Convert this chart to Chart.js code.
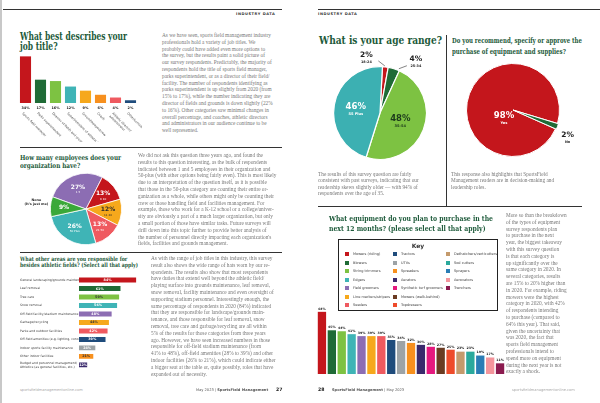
<!DOCTYPE html>
<html>
<head>
<meta charset="utf-8">
<script src="https://cdn.jsdelivr.net/npm/chart.js@4.4.0/dist/chart.umd.min.js"></script>
<style>
html, body { margin: 0; padding: 0; background: #fff; }
#page { position: relative; width: 600px; height: 403px; overflow: hidden; font-family: "Liberation Serif", serif; }
.box { position: absolute; }
.box canvas { display: block; }
.rule { position: absolute; height: 1px; background: #333; }
.vrule { position: absolute; width: 1px; background: #333; }
.title { position: absolute; font-family: "DejaVu Serif", serif; font-weight: bold; color: #1d5a3a; white-space: nowrap; transform-origin: 0 0; }
.txt { position: absolute; color: #787878; font-size: 5.3px; line-height: 6.8px; white-space: nowrap; }
.hdr { position: absolute; font-family: "DejaVu Sans", sans-serif; font-weight: bold; font-size: 3.6px; letter-spacing: 0.55px; color: #333; }
.foot { position: absolute; font-family: "DejaVu Sans", sans-serif; font-size: 3.6px; color: #555; white-space: nowrap; }
#key { position: absolute; left: 338px; top: 239px; width: 160px; height: 72px; border: 1px solid #222; box-sizing: border-box; }
#key .k { position: absolute; font-family: "DejaVu Sans", sans-serif; font-size: 3.5px; color: #444; white-space: nowrap; line-height: 4px; }
#key .k i { position: absolute; left: -8px; top: 0; width: 4px; height: 4px; }
</style>
</head>
<body>
<div id="page">
  <div class="box" style="left:0;top:0;width:2px;height:403px;background:#c8c8c8"></div>

  <!-- left page -->
  <div class="rule" style="left:3px;top:9px;width:279px"></div>
  <div class="hdr" style="left:236px;top:12px">INDUSTRY DATA</div>

  <div class="title" data-w="107" style="left:20px;top:32px;font-size:11px;line-height:10px">What best describes your<br>job title?</div>
  <div class="box" style="left:16px;top:50px"><canvas id="jobChart" width="126" height="92"></canvas></div>
  <div class="txt" style="left:162px;top:32px">As we have seen, sports field management industry<br>professionals hold a variety of job titles. We<br>probably could have added even more options to<br>the survey, but the results paint a solid picture of<br>our survey respondents. Predictably, the majority of<br>respondents hold the title of sports field manager,<br>parks superintendent, or as a director of their field/<br>facility. The number of respondents identifying as<br>parks superintendent is up slightly from 2020 (from<br>15% to 17%), while the number indicating they are<br>director of fields and grounds is down slightly (22%<br>to 16%). Other categories saw minimal changes in<br>overall percentage, and coaches, athletic directors<br>and administrators in our audience continue to be<br>well represented.</div>

  <div class="rule" style="left:20px;top:147px;width:262px"></div>
  <div class="title" data-w="101" style="left:20px;top:154px;font-size:7px;line-height:8px">How many employees does your<br>organization have?</div>
  <div class="box" style="left:18px;top:168px"><canvas id="staffChart" width="136" height="82"></canvas></div>
  <div class="txt" style="left:138px;top:152px">We did not ask this question three years ago, and found the<br>results to this question interesting, as the bulk of respondents<br>indicated between 1 and 5 employees in their organization and<br>50-plus (with other options being fairly even). This is most likely<br>due to an interpretation of the question itself, as it is possible<br>that those in the 50-plus category are counting their entire or-<br>ganization as a whole, while others might only be counting their<br>crew or those handling field and facilities management. For<br>example, those who work for a K-12 school or a college/univer-<br>sity are obviously a part of a much larger organization, but only<br>a small portion of those have similar tasks. Future surveys will<br>drill down into this topic further to provide better analysis of<br>the number of personnel directly impacting each organization's<br>fields, facilities and grounds management.</div>

  <div class="rule" style="left:20px;top:252px;width:262px"></div>
  <div class="title" data-w="118" style="left:20px;top:256px;font-size:6px;line-height:6px">What other areas are you responsible for<br>besides athletic fields? (Select all that apply)</div>
  <div class="box" style="left:18px;top:270px"><canvas id="areaChart" width="131" height="103"></canvas></div>
  <div class="txt" style="left:151px;top:255px">As with the range of job titles in this industry, this survey<br>result also shows the wide range of hats worn by our re-<br>spondents. The results also show that most respondents<br>have duties that extend well beyond the athletic field/<br>playing surface into grounds maintenance, leaf removal,<br>snow removal, facility maintenance and even oversight of<br>supporting stadium personnel. Interestingly enough, the<br>same percentage of respondents in 2020 (84%) indicated<br>that they are responsible for landscape/grounds main-<br>tenance, and those responsible for leaf removal, snow<br>removal, tree care and garbage/recycling are all within<br>5% of the results for those categories from three years<br>ago. However, we have seen increased numbers in those<br>responsible for off-field stadium maintenance (from<br>41% to 48%), off-field amenities (28% to 39%) and other<br>indoor facilities (26% to 21%), which could indicate either<br>a bigger seat at the table or, quite possibly, roles that have<br>expanded out of necessity.</div>

  <div class="foot" style="left:20px;top:388px;color:#aaa">sportsfieldmanagementonline.com</div>
  <div class="foot" style="left:196px;top:388px">May 2023 | <b>SportsField Management</b></div>
  <div class="foot" style="left:276px;top:387px;font-size:4.6px;font-weight:bold;color:#222">27</div>

  <!-- right page -->
  <div class="rule" style="left:318px;top:9px;width:282px"></div>
  <div class="hdr" style="left:318px;top:12px">INDUSTRY DATA</div>

  <div class="title" data-w="123" style="left:319px;top:35px;font-size:11px;line-height:11px">What is your age range?</div>
  <div class="box" style="left:318px;top:30px"><canvas id="ageChart" width="124" height="166"></canvas></div>
  <div class="txt" style="left:318px;top:171px;line-height:6.3px">The results of this survey question are fairly<br>consistent with past surveys, indicating that our<br>readership skews slightly older — with 94% of<br>respondents over the age of 35.</div>

  <div class="vrule" style="left:446px;top:35px;height:172px"></div>
  <div class="title" data-w="130" style="left:452px;top:35px;font-size:8px;line-height:11px">Do you recommend, specify or approve the<br>purchase of equipment and supplies?</div>
  <div class="box" style="left:449px;top:56px"><canvas id="buyChart" width="128" height="108"></canvas></div>
  <div class="txt" style="left:451px;top:171px;line-height:6.3px">This response also highlights that SportsField<br>Management readers are in decision-making and<br>leadership roles.</div>

  <div class="rule" style="left:318px;top:206px;width:264px"></div>
  <div class="title" data-w="164" style="left:329px;top:213px;font-size:8px;line-height:10px">What equipment do you plan to purchase in the<br>next 12 months? (please select all that apply)</div>
  <div id="key"></div>
  <div class="box" style="left:316px;top:300px"><canvas id="equipChart" width="190" height="74"></canvas></div>
  <div class="txt" style="left:506px;top:212px">More so than the breakdown<br>of the types of equipment<br>survey respondents plan<br>to purchase in the next<br>year, the biggest takeaway<br>with this survey question<br>is that each category is<br>up significantly over the<br>same category in 2020. In<br>several categories, results<br>are 15% to 20% higher than<br>in 2020. For example, riding<br>mowers were the highest<br>category in 2020, with 42%<br>of respondents intending<br>to purchase (compared to<br>64% this year). That said,<br>given the uncertainty that<br>was 2020, the fact that<br>sports field management<br>professionals intend to<br>spend more on equipment<br>during the next year is not<br>exactly a shock.</div>

  <div class="foot" style="left:318px;top:387px;font-size:4.6px;font-weight:bold;color:#222">28</div>
  <div class="foot" style="left:332px;top:388px"><b>SportsField Management</b> | May 2023</div>
  <div class="foot" style="left:512px;top:388px;color:#aaa">sportsfieldmanagementonline.com</div>
</div>

<script>
// job titles
const jobTitles = ['Sports field manager', 'Parks superintendent', 'Director of fields and grounds/facilities',
  'Superintendent of athletic fields/grounds', 'Groundskeeper/crew', 'Coach',
  ['Athletic director/', 'administrator'], 'Other/consultant'];
const jobValues = [34, 17, 16, 12, 9, 6, 4, 2];

// employees
const staffGroups = ['1-5', '6-10', '11-20', '21-50', '50 Plus', 'None'];
const staffValues = [27, 13, 12, 13, 26, 9];

// other areas
const areaLabels = ['General landscaping/grounds maintenance', 'Leaf removal', 'Tree care', 'Snow removal',
  'Off-field facility/stadium maintenance', 'Garbage/recycling', 'Parks and outdoor facilities',
  'Off-field amenities (e.g. lighting, concessions)', 'Indoor sports facility maintenance',
  'Other indoor facilities', ['Budget and personnel management/', 'Athletics (as general facilities, etc.)']];
const areaValues = [84, 61, 59, 56, 48, 44, 42, 39, 24, 21, 12];

// age
const ageRanges = ['18-24', '25-34', '35-54', '55 Plus'];
const ageValues = [2, 4, 48, 46];

// recommend / approve
const answers = ['Yes', 'No'];
const answerValues = [98, 2];

// equipment
const equipment = ['Mowers (riding)', 'Blowers', 'String trimmers', 'Edgers', 'Field groomers',
  'Line markers/stripers', 'Seeders', 'Tractors', 'UTVs', 'Spreaders', 'Aerators',
  'Synthetic turf groomers', 'Mowers (walk-behind)', 'Topdressers', 'Dethatchers/verticutters',
  'Sod cutters', 'Sprayers', 'Aerovators', 'Trenchers'];
const equipmentValues = [64, 45, 44, 41, 39, 39, 39, 35, 34, 32, 30, 28, 27, 25, 23, 23, 19, 17, 11];

const C = {
  red: '#c4161c', dgreen: '#1f6b36', lime: '#7dc242', teal: '#3fb4b6', purple: '#8c6db3',
  yellow: '#f6a81c', pink: '#ef5a60', navy: '#1f4c7c', gray: '#9da3a6', orange: '#f7901e',
  indigo: '#3a2a6c', magenta: '#e5197e', brown: '#6b3b22', redorange: '#ee4b2b', tan: '#c49a6c',
  teal2: '#2aa99c', blue: '#2a7db5', rose: '#f4959c', maroon: '#8b1b4f', green: '#3aa839'
};
const jobColors = [C.red, C.dgreen, C.lime, C.teal, C.yellow, C.orange, C.pink, C.navy];
const staffColors = [C.purple, C.red, C.yellow, C.pink, C.teal, C.green];
const areaColors = [C.red, C.dgreen, C.lime, C.teal, C.purple, C.yellow, C.pink, C.navy, C.gray, C.orange, C.indigo];
const ageColors = [C.red, C.dgreen, C.lime, '#3cb0b2'];
const equipColors = [C.red, C.dgreen, C.lime, C.teal, C.purple, C.yellow, C.pink, C.navy, C.gray, C.orange,
  C.indigo, C.magenta, C.brown, C.redorange, C.tan, C.teal2, C.blue, C.rose, C.maroon];

Chart.defaults.font.family = '"DejaVu Sans", sans-serif';
Chart.defaults.animation = false;
Chart.defaults.responsive = false;
Chart.defaults.plugins.legend.display = false;
Chart.defaults.plugins.tooltip.enabled = false;

const SANS = '"DejaVu Sans", sans-serif';

function txt(ctx, s, x, y, size, color, bold, align) {
  ctx.font = (bold ? 'bold ' : '') + size + 'px ' + SANS;
  ctx.fillStyle = color;
  ctx.textAlign = align || 'center';
  ctx.textBaseline = 'middle';
  ctx.fillText(s, x, y);
}

// point inside a slice
function slicePoint(arc, f) {
  const p = arc.getProps(['x', 'y', 'startAngle', 'endAngle', 'outerRadius'], true);
  const a = (p.startAngle + p.endAngle) / 2;
  return {x: p.x + Math.cos(a) * p.outerRadius * f, y: p.y + Math.sin(a) * p.outerRadius * f};
}

// job title bars
new Chart(document.getElementById('jobChart'), {
  type: 'bar',
  data: {labels: jobTitles, datasets: [{data: jobValues, backgroundColor: jobColors,
    categoryPercentage: 1, barPercentage: 0.74}]},
  options: {
    layout: {padding: {top: 5, bottom: 39, left: 2, right: 4}},
    scales: {
      x: {display: false},
      y: {display: false, min: 0, max: 35}
    }
  },
  plugins: [{
    id: 'jobText',
    afterDatasetsDraw(chart) {
      const ctx = chart.ctx, y0 = chart.chartArea.bottom;
      ctx.save();
      chart.getDatasetMeta(0).data.forEach((bar, i) => {
        txt(ctx, jobValues[i] + '%', bar.x, y0 + 5, 3.4, '#222', true);
        ctx.save();
        ctx.translate(bar.x - 3, y0 + 10);
        ctx.rotate(Math.PI / 4);
        [].concat(jobTitles[i]).forEach((l, j) => txt(ctx, l, 0, j * 4, 3.1, '#444', false, 'left'));
        ctx.restore();
      });
      ctx.restore();
    }
  }]
});

// employees pie
new Chart(document.getElementById('staffChart'), {
  type: 'pie',
  data: {labels: staffGroups, datasets: [{data: staffValues, backgroundColor: staffColors,
    borderColor: '#fff', borderWidth: 0.8}]},
  options: {
    rotation: -70,
    layout: {padding: {top: 5, bottom: 5, left: 32, right: 32}}
  },
  plugins: [{
    id: 'staffText',
    afterDatasetsDraw(chart) {
      const ctx = chart.ctx, arcs = chart.getDatasetMeta(0).data;
      ctx.save();
      arcs.forEach((arc, i) => {
        const p = slicePoint(arc, 0.62);
        const col = i === 2 ? '#2a2a2a' : '#fff';
        txt(ctx, staffValues[i] + '%', p.x, p.y - (i === 5 ? 0 : 1.5), 6, col, true);
        if (i < 5) txt(ctx, staffGroups[i], p.x, p.y + 3.8, 2.8, col, false);
      });
      const c = arcs[0];
      txt(ctx, 'None', c.x - c.outerRadius - 14, c.y - 9, 3.3, '#222', true);
      txt(ctx, "(It's just me)", c.x - c.outerRadius - 14, c.y - 5, 3.3, '#222', true);
      ctx.restore();
    }
  }]
});

// other areas horizontal bars
new Chart(document.getElementById('areaChart'), {
  type: 'bar',
  data: {labels: areaLabels, datasets: [{data: areaValues, backgroundColor: areaColors,
    categoryPercentage: 1, barPercentage: 0.58}]},
  options: {
    indexAxis: 'y',
    layout: {padding: {top: 1, bottom: 1, left: 2, right: 2}},
    scales: {
      x: {display: false, min: 0, max: 100},
      y: {
        grid: {display: false}, border: {display: false},
        ticks: {autoSkip: false, crossAlign: 'far', padding: 2, color: '#444', font: {size: 3.1}},
        afterFit(scale) { scale.width = 59; }
      }
    }
  },
  plugins: [{
    id: 'areaText',
    afterDatasetsDraw(chart) {
      const ctx = chart.ctx;
      ctx.save();
      chart.getDatasetMeta(0).data.forEach((bar, i) => {
        const dark = [2, 5, 9].includes(i);
        txt(ctx, areaValues[i] + '%', (bar.x + bar.base) / 2, bar.y + 0.2, 3.3, dark ? '#333' : '#fff', true);
      });
      ctx.restore();
    }
  }]
});

// age pie
new Chart(document.getElementById('ageChart'), {
  type: 'pie',
  data: {labels: ageRanges, datasets: [{data: ageValues, backgroundColor: ageColors,
    borderColor: '#fff', borderWidth: 1.2}]},
  options: {
    rotation: 3,
    layout: {padding: {top: 36, bottom: 36, left: 15, right: 15}}
  },
  plugins: [{
    id: 'ageText',
    afterDatasetsDraw(chart) {
      const ctx = chart.ctx, arcs = chart.getDatasetMeta(0).data;
      ctx.save();
      let p = slicePoint(arcs[3], 0.53);
      txt(ctx, ageValues[3] + '%', p.x, p.y - 2, 8.5, '#fff', true);
      txt(ctx, ageRanges[3], p.x, p.y + 5, 3.6, '#fff', true);
      p = slicePoint(arcs[2], 0.47);
      txt(ctx, ageValues[2] + '%', p.x, p.y - 2, 8.5, '#1c3a1c', true);
      txt(ctx, ageRanges[2], p.x, p.y + 5, 3.6, '#1c3a1c', true);
      ctx.strokeStyle = '#333';
      ctx.lineWidth = 0.6;
      p = slicePoint(arcs[0], 1.0);
      ctx.beginPath(); ctx.moveTo(p.x - 0.5, p.y - 1); ctx.lineTo(p.x - 7, p.y - 6); ctx.stroke();
      txt(ctx, ageValues[0] + '%', p.x - 19, p.y - 12, 7.5, '#222', true);
      txt(ctx, ageRanges[0], p.x - 19, p.y - 5, 3.4, '#222', true);
      p = slicePoint(arcs[1], 1.0);
      ctx.beginPath(); ctx.moveTo(p.x + 5, p.y); ctx.lineTo(p.x + 13, p.y - 3); ctx.stroke();
      txt(ctx, ageValues[1] + '%', p.x + 22, p.y - 10, 7.5, '#222', true);
      txt(ctx, ageRanges[1], p.x + 22, p.y - 3, 3.4, '#222', true);
      ctx.restore();
    }
  }]
});

// yes / no pie
new Chart(document.getElementById('buyChart'), {
  type: 'pie',
  data: {labels: answers, datasets: [{data: answerValues, backgroundColor: [C.red, C.dgreen],
    borderColor: '#fff', borderWidth: 1, offset: [0, 2]}]},
  options: {
    rotation: 114,
    layout: {padding: {top: 6, bottom: 6, left: 16, right: 16}}
  },
  plugins: [{
    id: 'buyText',
    afterDatasetsDraw(chart) {
      const ctx = chart.ctx, arcs = chart.getDatasetMeta(0).data;
      const c = arcs[0];
      ctx.save();
      txt(ctx, answerValues[0] + '%', c.x - 9, c.y + 6, 8.5, '#fff', true);
      txt(ctx, answers[0], c.x - 9, c.y + 13, 3.6, '#fff', true);
      const p = slicePoint(arcs[1], 1.0);
      txt(ctx, answerValues[1] + '%', p.x + 11, p.y + 9, 7.5, '#222', true);
      txt(ctx, answers[1], p.x + 11, p.y + 16, 3.4, '#222', true);
      ctx.restore();
    }
  }]
});

// equipment bars
new Chart(document.getElementById('equipChart'), {
  type: 'bar',
  data: {labels: equipment, datasets: [{data: equipmentValues, backgroundColor: equipColors,
    categoryPercentage: 1, barPercentage: 0.84}]},
  options: {
    layout: {padding: {top: 6, bottom: 0, left: 1, right: 1}},
    scales: {
      x: {display: false},
      y: {display: false, min: 0, max: 70}
    }
  },
  plugins: [{
    id: 'equipText',
    afterDatasetsDraw(chart) {
      const ctx = chart.ctx;
      ctx.save();
      chart.getDatasetMeta(0).data.forEach((bar, i) => {
        txt(ctx, equipmentValues[i] + '%', bar.x, bar.y - 3, 3.2, '#222', true);
      });
      ctx.restore();
    }
  }]
});

// key box built from the equipment list
const key = document.getElementById('key');
key.innerHTML = '<div style="position:absolute;left:0;right:0;top:2px;text-align:center;font:bold 6px \'DejaVu Sans\',sans-serif;color:#333">Key</div>';
const colX = [14, 62, 115];
equipment.forEach((name, i) => {
  const col = i < 7 ? 0 : (i < 14 ? 1 : 2);
  const row = i < 7 ? i : (i < 14 ? i - 7 : i - 14);
  const d = document.createElement('div');
  d.className = 'k';
  d.style.left = colX[col] + 'px';
  d.style.top = (12 + row * 8.5) + 'px';
  d.innerHTML = '<i style="background:' + equipColors[i] + '"></i>' + name;
  key.appendChild(d);
});

// squeeze titles to the widths in the layout
document.querySelectorAll('.title').forEach(el => {
  el.style.display = 'inline-block';
  const w = el.getBoundingClientRect().width;
  el.style.transform = 'scaleX(' + (el.dataset.w / w) + ')';
});
</script>
</body>
</html>
